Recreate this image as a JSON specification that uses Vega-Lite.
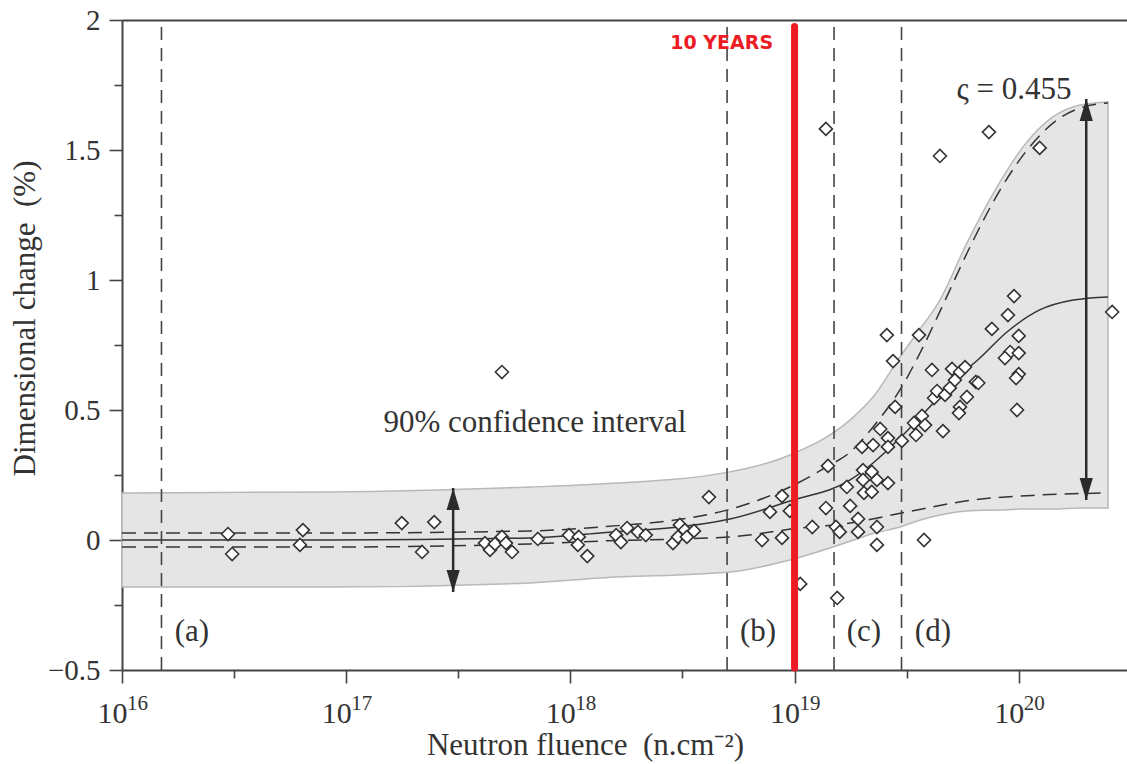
{
  "$schema": "https://vega.github.io/schema/vega-lite/v6.json",
  "width": 1005,
  "height": 650,
  "autosize": {"type": "none"},
  "padding": {"left": 122, "top": 20, "right": 0, "bottom": 94},
  "background": "white",
  "config": {"view": {"stroke": null}, "font": "Liberation Serif"},
  "resolve": {"axis": {"x": "independent", "y": "independent"}},
  "datasets": {
    "band": [
      {"f": 1e16, "hi": 0.181, "lo": -0.181},
      {"f": 8.47e16, "hi": 0.185, "lo": -0.181},
      {"f": 6.61e17, "hi": 0.204, "lo": -0.165},
      {"f": 1.36e18, "hi": 0.215, "lo": -0.146},
      {"f": 5.15e18, "hi": 0.262, "lo": -0.123},
      {"f": 9.53e18, "hi": 0.327, "lo": -0.077},
      {"f": 1.77e19, "hi": 0.462, "lo": -0.005},
      {"f": 2.24e19, "hi": 0.55, "lo": 0.025},
      {"f": 2.95e19, "hi": 0.704, "lo": 0.05},
      {"f": 3.52e19, "hi": 0.796, "lo": 0.073},
      {"f": 4.45e19, "hi": 0.923, "lo": 0.096},
      {"f": 5.87e19, "hi": 1.142, "lo": 0.112},
      {"f": 8.0e19, "hi": 1.358, "lo": 0.115},
      {"f": 1.045e20, "hi": 1.512, "lo": 0.119},
      {"f": 1.42e20, "hi": 1.627, "lo": 0.119},
      {"f": 1.875e20, "hi": 1.673, "lo": 0.123},
      {"f": 2.5e20, "hi": 1.685, "lo": 0.123}
    ],
    "curves": [
      {"curve": "mean", "f": 1e16, "v": 0},
      {"curve": "mean", "f": 8.47e16, "v": 0},
      {"curve": "mean", "f": 6.61e17, "v": 0.008},
      {"curve": "mean", "f": 1.36e18, "v": 0.027},
      {"curve": "mean", "f": 5.15e18, "v": 0.081},
      {"curve": "mean", "f": 9.53e18, "v": 0.15},
      {"curve": "mean", "f": 1.77e19, "v": 0.231},
      {"curve": "mean", "f": 2.24e19, "v": 0.296},
      {"curve": "mean", "f": 2.95e19, "v": 0.392},
      {"curve": "mean", "f": 3.89e19, "v": 0.5},
      {"curve": "mean", "f": 5.3e19, "v": 0.623},
      {"curve": "mean", "f": 6.71e19, "v": 0.7},
      {"curve": "mean", "f": 8.86e19, "v": 0.8},
      {"curve": "mean", "f": 1.24e20, "v": 0.885},
      {"curve": "mean", "f": 1.75e20, "v": 0.923},
      {"curve": "mean", "f": 2.5e20, "v": 0.935},
      {"curve": "upper", "f": 1e16, "v": 0.027},
      {"curve": "upper", "f": 8.47e16, "v": 0.027},
      {"curve": "upper", "f": 6.61e17, "v": 0.035},
      {"curve": "upper", "f": 1.36e18, "v": 0.05},
      {"curve": "upper", "f": 4.99e18, "v": 0.115},
      {"curve": "upper", "f": 9.53e18, "v": 0.204},
      {"curve": "upper", "f": 1.39e19, "v": 0.281},
      {"curve": "upper", "f": 1.77e19, "v": 0.338},
      {"curve": "upper", "f": 2.24e19, "v": 0.435},
      {"curve": "upper", "f": 2.95e19, "v": 0.577},
      {"curve": "upper", "f": 3.74e19, "v": 0.742},
      {"curve": "upper", "f": 4.59e19, "v": 0.904},
      {"curve": "upper", "f": 6.06e19, "v": 1.127},
      {"curve": "upper", "f": 8.25e19, "v": 1.346},
      {"curve": "upper", "f": 1.09e20, "v": 1.5},
      {"curve": "upper", "f": 1.48e20, "v": 1.615},
      {"curve": "upper", "f": 1.93e20, "v": 1.665},
      {"curve": "upper", "f": 2.5e20, "v": 1.681},
      {"curve": "lower", "f": 1e16, "v": -0.027},
      {"curve": "lower", "f": 8.47e16, "v": -0.027},
      {"curve": "lower", "f": 6.61e17, "v": -0.015},
      {"curve": "lower", "f": 1.36e18, "v": -0.004},
      {"curve": "lower", "f": 5.15e18, "v": 0.012},
      {"curve": "lower", "f": 1.06e19, "v": 0.046},
      {"curve": "lower", "f": 1.77e19, "v": 0.065},
      {"curve": "lower", "f": 3.17e19, "v": 0.108},
      {"curve": "lower", "f": 6.25e19, "v": 0.154},
      {"curve": "lower", "f": 1.24e20, "v": 0.173},
      {"curve": "lower", "f": 2.5e20, "v": 0.181}
    ],
    "points": [
      {"f": 2.97e16, "v": 0.023}, {"f": 3.1e16, "v": -0.054}, {"f": 6.41e16, "v": 0.038}, {"f": 6.22e16, "v": -0.019},
      {"f": 1.77e17, "v": 0.065}, {"f": 2.47e17, "v": 0.069}, {"f": 2.18e17, "v": -0.046}, {"f": 4.95e17, "v": 0.646},
      {"f": 4.16e17, "v": -0.012}, {"f": 4.38e17, "v": -0.038}, {"f": 4.61e17, "v": -0.015}, {"f": 4.95e17, "v": 0.012},
      {"f": 5.16e17, "v": -0.012}, {"f": 5.49e17, "v": -0.046}, {"f": 7.16e17, "v": 0.004}, {"f": 9.86e17, "v": 0.019},
      {"f": 1.09e18, "v": 0.012}, {"f": 1.08e18, "v": -0.019}, {"f": 1.19e18, "v": -0.062}, {"f": 1.6e18, "v": 0.019},
      {"f": 1.79e18, "v": 0.046}, {"f": 1.68e18, "v": -0.008}, {"f": 2.0e18, "v": 0.031}, {"f": 2.17e18, "v": 0.019},
      {"f": 2.87e18, "v": -0.012}, {"f": 3.08e18, "v": 0.058}, {"f": 3.24e18, "v": 0.038}, {"f": 3.02e18, "v": 0.012},
      {"f": 3.31e18, "v": 0.012}, {"f": 3.56e18, "v": 0.035}, {"f": 4.15e18, "v": 0.165}, {"f": 7.16e18, "v": 0.0},
      {"f": 7.77e18, "v": 0.108}, {"f": 8.79e18, "v": 0.169}, {"f": 8.79e18, "v": 0.008}, {"f": 9.53e18, "v": 0.112},
      {"f": 1.06e19, "v": -0.169}, {"f": 1.2e19, "v": 0.05}, {"f": 1.38e19, "v": 0.123}, {"f": 1.41e19, "v": 0.285},
      {"f": 1.38e19, "v": 1.581}, {"f": 1.53e19, "v": 0.05}, {"f": 1.59e19, "v": 0.031}, {"f": 1.55e19, "v": -0.223},
      {"f": 1.71e19, "v": 0.204}, {"f": 1.77e19, "v": 0.131}, {"f": 1.92e19, "v": 0.081}, {"f": 1.92e19, "v": 0.031},
      {"f": 2.0e19, "v": 0.358}, {"f": 2.24e19, "v": 0.365}, {"f": 2.41e19, "v": 0.427}, {"f": 2.61e19, "v": 0.392},
      {"f": 2.61e19, "v": 0.358}, {"f": 3.01e19, "v": 0.381}, {"f": 2.02e19, "v": 0.269}, {"f": 2.02e19, "v": 0.231},
      {"f": 2.21e19, "v": 0.262}, {"f": 2.33e19, "v": 0.231}, {"f": 2.61e19, "v": 0.219}, {"f": 2.04e19, "v": 0.181},
      {"f": 2.21e19, "v": 0.185}, {"f": 2.33e19, "v": 0.05}, {"f": 2.33e19, "v": -0.019}, {"f": 3.78e19, "v": 0.0},
      {"f": 2.58e19, "v": 0.788}, {"f": 3.59e19, "v": 0.788}, {"f": 2.75e19, "v": 0.688}, {"f": 2.81e19, "v": 0.512},
      {"f": 3.41e19, "v": 0.45}, {"f": 3.7e19, "v": 0.477}, {"f": 3.82e19, "v": 0.442}, {"f": 3.48e19, "v": 0.404},
      {"f": 4.59e19, "v": 0.419}, {"f": 4.1e19, "v": 0.654}, {"f": 4.19e19, "v": 0.546}, {"f": 4.32e19, "v": 0.573},
      {"f": 4.69e19, "v": 0.558}, {"f": 4.93e19, "v": 0.585}, {"f": 5.04e19, "v": 0.658}, {"f": 5.19e19, "v": 0.615},
      {"f": 5.47e19, "v": 0.646}, {"f": 5.76e19, "v": 0.665}, {"f": 5.47e19, "v": 0.512}, {"f": 5.41e19, "v": 0.488},
      {"f": 5.87e19, "v": 0.55}, {"f": 6.44e19, "v": 0.608}, {"f": 6.6e19, "v": 0.604}, {"f": 7.59e19, "v": 0.812},
      {"f": 8.95e19, "v": 0.865}, {"f": 1.0e20, "v": 0.785}, {"f": 9.15e19, "v": 0.723}, {"f": 8.68e19, "v": 0.7},
      {"f": 1.0e20, "v": 0.719}, {"f": 1.0e20, "v": 0.638}, {"f": 9.73e19, "v": 0.623}, {"f": 9.82e19, "v": 0.5},
      {"f": 9.53e19, "v": 0.938}, {"f": 2.61e20, "v": 0.877}, {"f": 4.45e19, "v": 1.477}, {"f": 7.36e19, "v": 1.569},
      {"f": 1.24e20, "v": 1.508}
    ],
    "zones": [{"f": 1.5e16}, {"f": 5e18}, {"f": 1.5e19}, {"f": 3e19}],
    "arrows": [
      {"f": 3.0e17, "top": 0.2, "bottom": -0.2},
      {"f": 2.0e20, "top": 1.696, "bottom": 0.154}
    ],
    "redline": [{"f": 1e19, "top": 1.975, "bottom": -0.492}],
    "labels": [
      {"label": "(a)", "f": 2.05e16, "v": -0.354},
      {"label": "(b)", "f": 6.87e18, "v": -0.354},
      {"label": "(c)", "f": 2.04e19, "v": -0.354},
      {"label": "(d)", "f": 4.14e19, "v": -0.354},
      {"label": "90% confidence interval", "f": 6.95e17, "v": 0.45},
      {"label": "ς = 0.455", "f": 9.53e19, "v": 1.731}
    ],
    "exps": [
      {"f": 1e16, "e": "16"}, {"f": 1e17, "e": "17"}, {"f": 1e18, "e": "18"}, {"f": 1e19, "e": "19"}, {"f": 1e20, "e": "20"}
    ],
    "note": [{"label": "10 YEARS", "f": 8.02e18, "v": 1.912}]
  },
  "layer": [
    {
      "data": {"name": "band"},
      "mark": {"type": "area", "color": "#e5e5e5", "stroke": "#b8b8b8", "strokeWidth": 1.5, "interpolate": "monotone"},
      "encoding": {
        "x": {"field": "f", "type": "quantitative", "scale": {"type": "log", "domain": [1e16, 3.04e20], "nice": false},
          "axis": {"orient": "bottom", "values": [1e16, 1e17, 1e18, 1e19, 1e20], "grid": false, "tickSize": 13, "tickWidth": 1.6, "tickColor": "#444", "domainColor": "#444", "domainWidth": 2,
            "labelFont": "Liberation Serif", "labelFontSize": 30, "labelColor": "#333", "labelPadding": 15, "labelOffset": -10, "labelFlush": false, "labelOverlap": false,
            "labelExpr": "'10'",
            "title": "Neutron fluence\u2002(n.cm⁻²)", "titleFont": "Liberation Serif", "titleFontSize": 31, "titleFontWeight": "normal", "titleColor": "#333", "titlePadding": 2, "titleX": 463}},
        "y": {"field": "hi", "type": "quantitative", "scale": {"domain": [-0.5, 2], "nice": false},
          "axis": {"orient": "left", "values": [-0.5, 0, 0.5, 1, 1.5, 2], "format": ".2~f", "grid": false, "tickSize": 13, "tickWidth": 1.6, "tickColor": "#444", "domainColor": "#444", "domainWidth": 2,
            "labelFont": "Liberation Serif", "labelFontSize": 29, "labelColor": "#333", "labelPadding": 9, "labelFlush": false, "labelOverlap": false,
            "title": "Dimensional change\u2002(%)", "titleFont": "Liberation Serif", "titleFontSize": 31, "titleFontWeight": "normal", "titleColor": "#333", "titlePadding": 6, "titleY": 298}},
        "y2": {"field": "lo"}
      }
    },
    {
      "data": {"name": "curves"},
      "transform": [{"filter": "datum.curve == 'mean'"}],
      "mark": {"type": "line", "color": "#333", "strokeWidth": 1.5, "interpolate": "monotone"},
      "encoding": {
        "x": {"field": "f", "type": "quantitative", "scale": {"type": "log", "domain": [1e16, 3.04e20], "nice": false},
          "axis": {"orient": "bottom", "values": [3.1623e16, 3.1623e17, 3.1623e18, 3.1623e19, 3.1623e20], "grid": false, "domain": false, "labels": false, "tickSize": 8, "tickWidth": 1.6, "tickColor": "#444", "title": null}},
        "y": {"field": "v", "type": "quantitative", "scale": {"domain": [-0.5, 2], "nice": false},
          "axis": {"orient": "left", "values": [-0.25, 0.25, 0.75, 1.25, 1.75], "grid": false, "domain": false, "labels": false, "tickSize": 8, "tickWidth": 1.6, "tickColor": "#444", "title": null}}
      }
    },
    {
      "data": {"name": "curves"},
      "transform": [{"filter": "datum.curve != 'mean'"}],
      "mark": {"type": "line", "color": "#333", "strokeWidth": 1.5, "strokeDash": [14, 8], "interpolate": "monotone"},
      "encoding": {
        "x": {"field": "f", "type": "quantitative", "scale": {"type": "log", "domain": [1e16, 3.04e20], "nice": false},
          "axis": {"orient": "top", "grid": false, "domain": true, "domainColor": "#444", "domainWidth": 2, "ticks": false, "labels": false, "title": null}},
        "y": {"field": "v", "type": "quantitative", "scale": {"domain": [-0.5, 2], "nice": false}, "axis": null},
        "detail": {"field": "curve"}
      }
    },
    {
      "data": {"name": "zones"},
      "mark": {"type": "rule", "color": "#444", "strokeWidth": 1.6, "strokeDash": [13, 8]},
      "encoding": {
        "x": {"field": "f", "type": "quantitative", "scale": {"type": "log", "domain": [1e16, 3.04e20], "nice": false}, "axis": null},
        "y": {"datum": -0.5, "type": "quantitative", "scale": {"domain": [-0.5, 2], "nice": false}, "axis": null},
        "y2": {"datum": 2}
      }
    },
    {
      "data": {"name": "arrows"},
      "mark": {"type": "rule", "color": "#2b2b2b", "strokeWidth": 2.5},
      "encoding": {
        "x": {"field": "f", "type": "quantitative", "scale": {"type": "log", "domain": [1e16, 3.04e20], "nice": false}, "axis": null},
        "y": {"field": "top", "type": "quantitative", "scale": {"domain": [-0.5, 2], "nice": false}, "axis": null},
        "y2": {"field": "bottom"}
      }
    },
    {
      "data": {"name": "arrows"},
      "mark": {"type": "point", "shape": "M0,0L0.6,2L-0.6,2Z", "size": 484, "filled": true, "color": "#2b2b2b", "opacity": 1},
      "encoding": {
        "x": {"field": "f", "type": "quantitative", "scale": {"type": "log", "domain": [1e16, 3.04e20], "nice": false}, "axis": null},
        "y": {"field": "top", "type": "quantitative", "scale": {"domain": [-0.5, 2], "nice": false}, "axis": null}
      }
    },
    {
      "data": {"name": "arrows"},
      "mark": {"type": "point", "shape": "M0,0L0.6,-2L-0.6,-2Z", "size": 484, "filled": true, "color": "#2b2b2b", "opacity": 1},
      "encoding": {
        "x": {"field": "f", "type": "quantitative", "scale": {"type": "log", "domain": [1e16, 3.04e20], "nice": false}, "axis": null},
        "y": {"field": "bottom", "type": "quantitative", "scale": {"domain": [-0.5, 2], "nice": false}, "axis": null}
      }
    },
    {
      "data": {"name": "points"},
      "mark": {"type": "point", "shape": "diamond", "size": 169, "fill": "white", "stroke": "#333", "strokeWidth": 1.6, "opacity": 1, "filled": false, "fillOpacity": 1},
      "encoding": {
        "x": {"field": "f", "type": "quantitative", "scale": {"type": "log", "domain": [1e16, 3.04e20], "nice": false}, "axis": null},
        "y": {"field": "v", "type": "quantitative", "scale": {"domain": [-0.5, 2], "nice": false}, "axis": null}
      }
    },
    {
      "data": {"name": "redline"},
      "mark": {"type": "rule", "color": "#ed1c24", "strokeWidth": 7, "strokeCap": "round"},
      "encoding": {
        "x": {"field": "f", "type": "quantitative", "scale": {"type": "log", "domain": [1e16, 3.04e20], "nice": false}, "axis": null},
        "y": {"field": "top", "type": "quantitative", "scale": {"domain": [-0.5, 2], "nice": false}, "axis": null},
        "y2": {"field": "bottom"}
      }
    },
    {
      "data": {"name": "labels"},
      "mark": {"type": "text", "font": "Liberation Serif", "fontSize": 31, "color": "#333", "align": "center", "baseline": "middle"},
      "encoding": {
        "x": {"field": "f", "type": "quantitative", "scale": {"type": "log", "domain": [1e16, 3.04e20], "nice": false}, "axis": null},
        "y": {"field": "v", "type": "quantitative", "scale": {"domain": [-0.5, 2], "nice": false}, "axis": null},
        "text": {"field": "label"}
      }
    },
    {
      "data": {"name": "exps"},
      "mark": {"type": "text", "font": "Liberation Serif", "fontSize": 21, "color": "#333", "align": "left", "baseline": "middle", "dx": 5, "dy": 34},
      "encoding": {
        "x": {"field": "f", "type": "quantitative", "scale": {"type": "log", "domain": [1e16, 3.04e20], "nice": false}, "axis": null},
        "y": {"datum": -0.5, "type": "quantitative", "scale": {"domain": [-0.5, 2], "nice": false}, "axis": null},
        "text": {"field": "e"}
      }
    },
    {
      "data": {"name": "note"},
      "mark": {"type": "text", "font": "DejaVu Sans", "fontWeight": "bold", "fontSize": 19, "color": "#ed1c24", "align": "right", "baseline": "middle"},
      "encoding": {
        "x": {"field": "f", "type": "quantitative", "scale": {"type": "log", "domain": [1e16, 3.04e20], "nice": false}, "axis": null},
        "y": {"field": "v", "type": "quantitative", "scale": {"domain": [-0.5, 2], "nice": false}, "axis": null},
        "text": {"field": "label"}
      }
    }
  ]
}
